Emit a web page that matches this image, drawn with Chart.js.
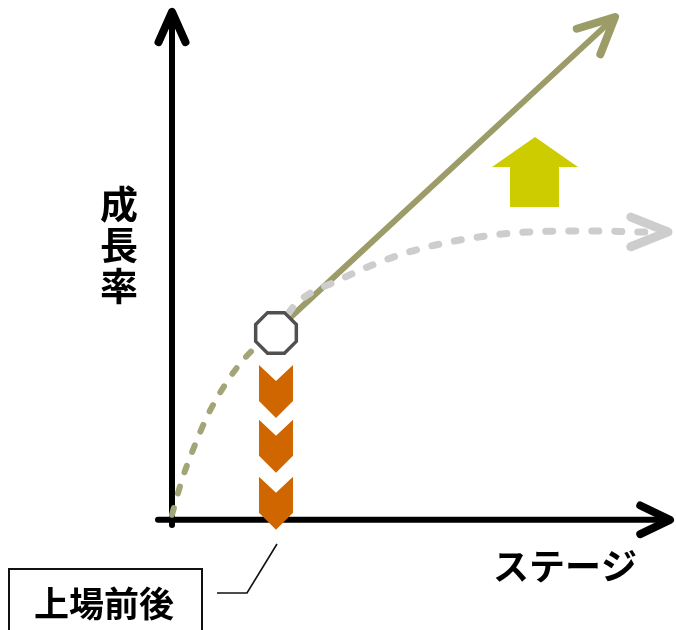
<!DOCTYPE html>
<html>
<head>
<meta charset="utf-8">
<script src="https://cdn.jsdelivr.net/npm/chart.js@4"></script>
<style>
  html, body { margin: 0; padding: 0; background: #fff; }
  canvas { display: block; }
</style>
</head>
<body>
<canvas id="myChart" width="676" height="630"></canvas>
<script>
// data block (stage on x, growth rate on y, both in arbitrary units)
const axisX = [{ x: -0.28, y: 0 }, { x: 9.96, y: 0 }];
const axisY = [{ x: 0, y: -0.1 }, { x: 0, y: 10 }];
// growth up to the listing (olive dashed)
const beforeListing = [
  { x: 0.0, y: 0.1 }, { x: 0.2, y: 0.79 }, { x: 0.42, y: 1.38 },
  { x: 0.72, y: 2.07 }, { x: 1.06, y: 2.66 }, { x: 1.46, y: 3.19 },
  { x: 1.8, y: 3.5 }, { x: 2.08, y: 3.68 },
];
// growth if it slows down (grey dashed)
const slowdown = [
  { x: 2.08, y: 3.68 }, { x: 2.46, y: 4.23 }, { x: 3.36, y: 4.73 },
  { x: 4.56, y: 5.22 }, { x: 5.76, y: 5.51 }, { x: 7.16, y: 5.67 },
  { x: 8.56, y: 5.69 }, { x: 9.3, y: 5.67 }, { x: 9.92, y: 5.67 },
];
// growth after the listing (olive solid)
const afterListing = [{ x: 2.36, y: 3.98 }, { x: 8.86, y: 9.9 }];
const listingPoint = { x: 2.08, y: 3.68 };
const dropMarks = [3.05, 1.97, 0.85]; // tops of the orange chevrons
const upMark = { x: 7.26, top: 7.54, bottom: 6.16 };

const yTitle = ["成", "長", "率"];
const xTitle = "ステージ";
const noteLabel = "上場前後";

const OLIVE = "#9c9c68";
const OLIVE_DASH = "#a3a576";
const GREY = "#cdcdcd";
const ORANGE = "#d06600";
const YELLOW = "#cccc00";
const JP = '"Noto Sans CJK JP", "Noto Sans", sans-serif';

function line(label, pts, color, width, dash, arrow) {
  return {
    label: label,
    data: pts,
    showLine: true,
    borderColor: color,
    borderWidth: width,
    borderDash: dash || [],
    borderCapStyle: "round",
    borderJoinStyle: "round",
    pointRadius: 0,
    tension: 0.4,
    cubicInterpolationMode: "monotone",
    arrow: arrow,
  };
}

const data = {
  datasets: [
    line("slowdown", slowdown, GREY, 7, [7, 16], { len: 40, ang: 0.38, w: 9 }),
    line("before", beforeListing, OLIVE_DASH, 6, [7, 15], null),
    line("after", afterListing, OLIVE, 6, [], { len: 40, ang: 0.45, w: 8 }),
    line("xaxis", axisX, "#000", 6, [], { len: 33, ang: 0.45, w: 8 }),
    line("yaxis", axisY, "#000", 6, [], { len: 33, ang: 0.42, w: 8 }),
  ],
};

// plugin - arrow heads and the drawn marks
const diagram = {
  id: "diagram",
  afterDatasetsDraw(chart) {
    const ctx = chart.ctx;
    const xs = chart.scales.x;
    const ys = chart.scales.y;

    // arrow heads on the lines
    chart.data.datasets.forEach((ds, i) => {
      if (!ds.arrow) return;
      const pts = chart.getDatasetMeta(i).data;
      const a = pts[pts.length - 2], b = pts[pts.length - 1];
      const th = Math.atan2(b.y - a.y, b.x - a.x);
      const { len, ang, w } = ds.arrow;
      ctx.save();
      ctx.strokeStyle = ds.borderColor;
      ctx.lineWidth = w;
      ctx.lineCap = "round";
      ctx.lineJoin = "round";
      ctx.beginPath();
      ctx.moveTo(b.x - len * Math.cos(th - ang), b.y - len * Math.sin(th - ang));
      ctx.lineTo(b.x, b.y);
      ctx.lineTo(b.x - len * Math.cos(th + ang), b.y - len * Math.sin(th + ang));
      ctx.stroke();
      ctx.restore();
    });

    // octagon at the listing
    const cx = xs.getPixelForValue(listingPoint.x);
    const cy = ys.getPixelForValue(listingPoint.y);
    ctx.save();
    ctx.beginPath();
    for (let k = 0; k < 8; k++) {
      const t = Math.PI / 8 + (k * Math.PI) / 4;
      const px = cx + 22 * Math.cos(t), py = cy + 22 * Math.sin(t);
      k ? ctx.lineTo(px, py) : ctx.moveTo(px, py);
    }
    ctx.closePath();
    ctx.fillStyle = "#fff";
    ctx.fill();
    ctx.strokeStyle = "#505050";
    ctx.lineWidth = 3.5;
    ctx.stroke();

    // orange chevrons going down
    ctx.fillStyle = ORANGE;
    dropMarks.forEach((v) => {
      const top = ys.getPixelForValue(v);
      ctx.beginPath();
      ctx.moveTo(cx - 17, top);
      ctx.lineTo(cx, top + 16);
      ctx.lineTo(cx + 17, top);
      ctx.lineTo(cx + 17, top + 36);
      ctx.lineTo(cx, top + 53);
      ctx.lineTo(cx - 17, top + 36);
      ctx.closePath();
      ctx.fill();
    });

    // yellow arrow going up
    const ux = xs.getPixelForValue(upMark.x);
    const ut = ys.getPixelForValue(upMark.top);
    const ub = ys.getPixelForValue(upMark.bottom);
    ctx.fillStyle = YELLOW;
    ctx.beginPath();
    ctx.moveTo(ux, ut);
    ctx.lineTo(ux + 43, ut + 30);
    ctx.lineTo(ux + 24, ut + 30);
    ctx.lineTo(ux + 24, ub);
    ctx.lineTo(ux - 25, ub);
    ctx.lineTo(ux - 25, ut + 30);
    ctx.lineTo(ux - 43, ut + 30);
    ctx.closePath();
    ctx.fill();

    // axis titles
    ctx.fillStyle = "#000";
    ctx.textAlign = "center";
    ctx.textBaseline = "middle";
    ctx.font = "bold 38px " + JP;
    yTitle.forEach((c, k) => ctx.fillText(c, 119, 204 + k * 41));
    ctx.font = "bold 36px " + JP;
    ctx.fillText(xTitle, 565, 566);

    // note box with leader line
    ctx.strokeStyle = "#111";
    ctx.lineWidth = 2;
    ctx.strokeRect(9, 569, 193, 80);
    ctx.font = "bold 35px " + JP;
    ctx.fillText(noteLabel, 104, 604);
    ctx.lineWidth = 1.6;
    ctx.beginPath();
    ctx.moveTo(217, 593);
    ctx.lineTo(247, 593);
    ctx.lineTo(277, 544);
    ctx.stroke();
    ctx.restore();
  },
};

// config block
const config = {
  type: "scatter",
  data: data,
  options: {
    responsive: false,
    animation: false,
    devicePixelRatio: 1,
    layout: { padding: { left: 147, right: 4, top: 12, bottom: 100 } },
    scales: {
      x: { type: "linear", min: -0.5, max: 10, display: false },
      y: { type: "linear", min: -0.2, max: 10, display: false },
    },
    plugins: {
      legend: { display: false },
      tooltip: { enabled: false },
    },
  },
  plugins: [diagram],
};

// render init block
const myChart = new Chart(document.getElementById("myChart"), config);
</script>
</body>
</html>
